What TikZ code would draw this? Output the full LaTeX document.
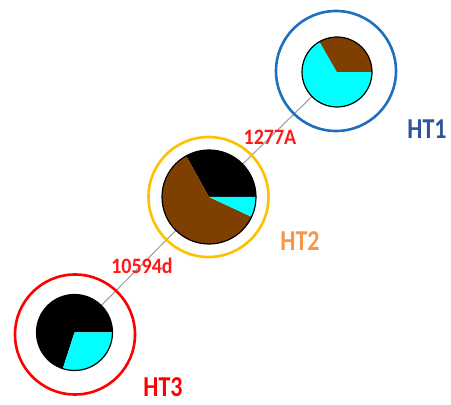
\documentclass[tikz,border=0pt]{standalone}
\usepackage{fontspec}
\setmainfont{Carlito}
\definecolor{ringblue}{HTML}{1F6FBF}
\definecolor{ringgold}{HTML}{FFC000}
\definecolor{ringred}{HTML}{FF0000}
\definecolor{txtblue}{HTML}{2F5597}
\definecolor{txtorange}{HTML}{F79646}
\definecolor{piebrown}{HTML}{7F3F00}
\definecolor{piecyan}{HTML}{00FFFF}
\definecolor{mutred}{HTML}{FF1A1A}
\newcommand{\tallbox}[2]{\scalebox{1}[#1]{#2}}
\begin{document}
\begin{tikzpicture}[x=1pt,y=1pt,
  ring/.style={circle,draw=#1,line width=2.6pt,inner sep=0pt,minimum size=120pt},
  pie/.style={circle,inner sep=0pt,minimum size=#1},
  edge/.style={draw=gray!70,line width=1.2pt},
  mut/.style={text=mutred,font=\bfseries\fontsize{20}{20}\selectfont},
  htlab/.style={text=#1,inner sep=0pt,text depth=0pt,font=\bfseries\fontsize{24}{24}\selectfont},
  rim/.style={draw=black,line width=1.2pt}]
\useasboundingbox (0,0) rectangle (451,405);
% pie placeholders
\node[pie=70pt] (p1) at (337,333) {};
\node[pie=94pt] (p2) at (209,208) {};
\node[pie=76pt] (p3) at (74.5,72.5) {};
% connectors
\draw[edge] (p3.center) -- (p2.center);
\draw[edge] (p2.center) -- (p1.center);
% HT1 pie
\fill[piecyan] (p1.center) -- ++(120:35) arc (120:360:35) -- cycle;
\fill[piebrown] (p1.center) -- ++(0:35) arc (0:120:35) -- cycle;
\draw[rim] (p1.center) circle (35);
% HT2 pie
\fill[black] (p2.center) -- ++(0:47) arc (0:119:47) -- cycle;
\fill[piebrown] (p2.center) -- ++(119:47) arc (119:335:47) -- cycle;
\fill[piecyan] (p2.center) -- ++(335:47) arc (335:360:47) -- cycle;
\draw[rim] (p2.center) circle (47);
% HT3 pie
\fill[black] (p3.center) -- ++(0:38) arc (0:252:38) -- cycle;
\fill[piecyan] (p3.center) -- ++(252:38) arc (252:360:38) -- cycle;
\draw[rim] (p3.center) circle (38);
% rings
\node[ring=ringblue] (r1) at (336,334) {};
\node[ring=ringgold] (r2) at (208.5,208) {};
\node[ring=ringred] (r3) at (75,70.5) {};
% labels
\node[mut] (m1) at (270,268) {\tallbox{1.1}{1277A}};
\node[mut] (m2) at (142,139) {\tallbox{1.1}{10594d}};
\node[htlab=txtblue] (h1) at (427,276) {\tallbox{1.2}{HT1}};
\node[htlab=txtorange] (h2) at (300,164) {\tallbox{1.2}{HT2}};
\node[htlab=ringred] (h3) at (163,18) {\tallbox{1.2}{HT3}};
\end{tikzpicture}
\end{document}
